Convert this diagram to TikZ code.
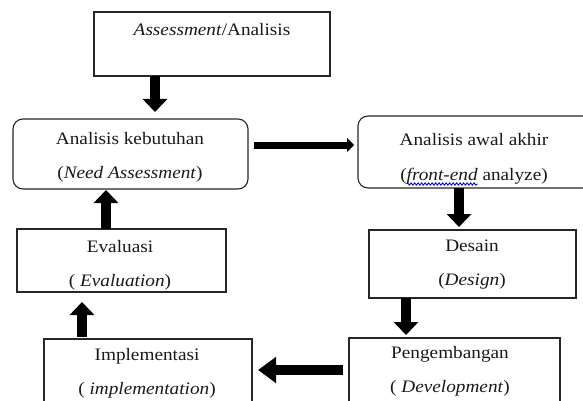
\documentclass[tikz,border=0pt]{standalone}
\usepackage{fontspec}
\setmainfont{Liberation Serif}[FakeStretch=1.1]
\usetikzlibrary{arrows.meta,decorations.pathmorphing}
\newlength\fewidth
\newlength\parwidth
\begin{document}
\settowidth\fewidth{\fontsize{17.5}{34}\selectfont\textit{front-end}}%
\settowidth\parwidth{\fontsize{17.5}{34}\selectfont(}%
\begin{tikzpicture}[x=1pt,y=-1pt,
  box/.style={draw=black!85, line width=1.1pt, inner sep=0pt, outer sep=0pt, anchor=north west},
  rbox/.style={box, rounded corners=10pt},
  lbl/.style={font=\fontsize{17.5}{34}\selectfont, align=center, inner sep=0pt, text=black!90},
  varrow/.style={line width=10pt, -{Triangle[width=24pt,length=13pt]}},
  harrow/.style={line width=7pt, -{Triangle[width=14pt,length=7pt]}},
  larrow/.style={line width=10pt, -{Triangle[width=25pt,length=18pt]}},
  wavy/.style={draw=blue!80!black, line width=0.9pt, decorate, decoration={snake, amplitude=1.1pt, segment length=3.5pt}}
]
\useasboundingbox (0,0) rectangle (583,401);
\clip (0,0) rectangle (583,401);

% boxes
\node[box, minimum width=236pt, minimum height=64pt] (top) at (94,12) {};
\node[lbl] (toplbl) at (212,30) {\textit{Assessment}/Analisis};

\node[rbox, minimum width=235pt, minimum height=70pt] (need) at (13,119) {};
\node[lbl] (needlbl) at (130,157) {Analisis kebutuhan\\(\textit{Need Assessment})};

\node[rbox, minimum width=240pt, minimum height=72pt] (front) at (358,116) {};
\node[lbl, anchor=base] (frontlbl) at (474,146) {Analisis awal akhir};
\node[lbl, anchor=base] (frontlblb) at (474,180) {(\textit{front-end} analyze)};
\coordinate (wa) at ([xshift=\parwidth, yshift=-4pt]frontlblb.base west);
\coordinate (wb) at ([xshift=\parwidth+\fewidth, yshift=-4pt]frontlblb.base west);
\draw[wavy] (wa) -- (wb);

\node[box, minimum width=209pt, minimum height=63pt] (eval) at (17,229) {};
\node[lbl] (evallbl) at (120,265) {Evaluasi\\( \textit{Evaluation})};

\node[box, minimum width=207pt, minimum height=68pt] (des) at (369,230) {};
\node[lbl] (deslbl) at (472,265) {Desain\\(\textit{Design})};

\node[box, minimum width=208pt, minimum height=90pt] (impl) at (44,339) {};
\node[lbl] (impllbl) at (147,373) {Implementasi\\( \textit{implementation})};

\node[box, minimum width=211pt, minimum height=90pt] (peng) at (349,338) {};
\node[lbl] (penglbl) at (450,371) {Pengembangan\\( \textit{Development})};

% arrows
\draw[varrow, shorten >=7pt] ([xshift=61pt]top.south west) -- ([xshift=61pt]top.south west |- need.north);
\draw[harrow, shorten <=6pt, shorten >=4pt] ([yshift=9pt]need.east) -- ([yshift=9pt]need.east -| front.west);
\draw[varrow, shorten >=3pt] ([xshift=101pt]front.south west) -- ([xshift=101pt]front.south west |- des.north);
\draw[varrow, shorten >=3pt] ([xshift=37pt]des.south west) -- ([xshift=37pt]des.south west |- peng.north);
\draw[larrow, shorten <=6pt, shorten >=6pt] ([yshift=-32pt]peng.north west) -- ([yshift=-32pt]peng.north west -| impl.east);
\draw[varrow, shorten <=2pt, shorten >=10pt] ([xshift=38pt]impl.north west) -- ([xshift=38pt]impl.north west |- eval.south);
\draw[varrow, shorten >=1pt] ([xshift=89pt]eval.north west) -- ([xshift=89pt]eval.north west |- need.south);
\end{tikzpicture}
\end{document}
